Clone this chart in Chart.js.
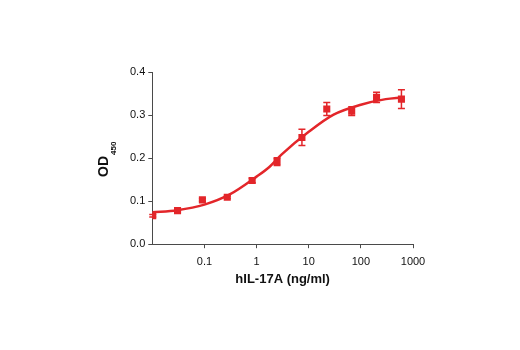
<!DOCTYPE html>
<html>
<head>
<meta charset="utf-8">
<script src="https://cdn.jsdelivr.net/npm/chart.js@4"></script>
<style>
  html, body { margin: 0; padding: 0; background: #fff; }
  #wrap { width: 520px; height: 350px; }
</style>
</head>
<body>
<div id="wrap"><canvas id="odChart" width="520" height="350"></canvas></div>
<script>
// measured points (dose in ng/ml, OD450 mean and error)
const doses = [0.0102, 0.0305, 0.0914, 0.274, 0.823, 2.47, 7.41, 22.2, 66.7, 200, 600];
const odMeans = [0.066, 0.078, 0.103, 0.109, 0.148, 0.192, 0.248, 0.314, 0.309, 0.341, 0.337];
const odErrors = [0.003, 0.003, 0.003, 0.003, 0.005, 0.009, 0.019, 0.015, 0.010, 0.012, 0.022];

// fitted curve
const fitDoses = [0.01, 0.03, 0.1, 0.3, 1, 1.78, 3, 10, 30, 100, 300, 600];
const fitOD = [0.074, 0.079, 0.092, 0.115, 0.157, 0.180, 0.208, 0.261, 0.301, 0.324, 0.337, 0.341];

const xTicks = [0.1, 1, 10, 100, 1000];
const xTickLabels = ['0.1', '1', '10', '100', '1000'];
const yTicks = [0, 0.1, 0.2, 0.3, 0.4];

const red = '#e3262a';
const axisColor = '#4a4a4a';
const font = "'Liberation Sans', Arial, sans-serif";

// error bars drawn with the chart's own scales
const errorBars = {
  id: 'errorBars',
  afterDatasetsDraw(chart) {
    const ctx = chart.ctx;
    const xs = chart.scales.x, ys = chart.scales.y;
    ctx.save();
    ctx.strokeStyle = red;
    ctx.lineWidth = 1.5;
    for (let i = 0; i < doses.length; i++) {
      const px = xs.getPixelForValue(doses[i]);
      const top = ys.getPixelForValue(odMeans[i] + odErrors[i]);
      const bot = ys.getPixelForValue(odMeans[i] - odErrors[i]);
      ctx.beginPath();
      ctx.moveTo(px, top); ctx.lineTo(px, bot);
      ctx.moveTo(px - 3.5, top); ctx.lineTo(px + 3.5, top);
      ctx.moveTo(px - 3.5, bot); ctx.lineTo(px + 3.5, bot);
      ctx.stroke();
    }
    ctx.restore();
  }
};

// y title with subscript
const yTitle = {
  id: 'yTitle',
  afterDraw(chart) {
    const ctx = chart.ctx;
    const a = chart.chartArea;
    ctx.save();
    ctx.translate(a.left - 44, 177);
    ctx.rotate(-Math.PI / 2);
    ctx.fillStyle = '#111';
    ctx.textAlign = 'left';
    ctx.textBaseline = 'alphabetic';
    ctx.font = "bold 14px " + font;
    ctx.fillText('OD', 0, 0);
    const w = ctx.measureText('OD').width;
    ctx.font = "bold 8px " + font;
    ctx.fillText('450', w + 1, 8);
    ctx.restore();
  }
};

new Chart(document.getElementById('odChart'), {
  type: 'scatter',
  data: {
    datasets: [
      {
        type: 'line',
        data: fitDoses.map((d, i) => ({ x: d, y: fitOD[i] })),
        borderColor: red,
        borderWidth: 2.5,
        pointRadius: 0,
        cubicInterpolationMode: 'monotone',
        fill: false
      },
      {
        data: doses.map((d, i) => ({ x: d, y: odMeans[i] })),
        backgroundColor: red,
        borderColor: red,
        pointStyle: 'rect',
        pointRadius: 5,
        borderWidth: 0
      }
    ]
  },
  options: {
    responsive: false,
    animation: false,
    layout: { padding: { left: 127, right: 107, top: 72, bottom: 63 } },
    plugins: { legend: { display: false }, tooltip: { enabled: false } },
    scales: {
      x: {
        type: 'logarithmic',
        min: 0.01,
        max: 1000,
        afterBuildTicks: s => { s.ticks = xTicks.map(v => ({ value: v })); },
        ticks: {
          autoSkip: false,
          maxRotation: 0,
          padding: 7,
          color: '#111',
          font: { family: font, size: 11 },
          callback: (v) => xTickLabels[xTicks.indexOf(v)]
        },
        grid: { drawOnChartArea: false, tickLength: 4, color: axisColor },
        border: { color: axisColor, width: 1 },
        title: {
          display: true,
          text: 'hIL-17A (ng/ml)',
          color: '#111',
          font: { family: font, size: 13, weight: 'bold' },
          padding: { top: -4, bottom: 0 }
        }
      },
      y: {
        min: 0,
        max: 0.4,
        afterBuildTicks: s => { s.ticks = yTicks.map(v => ({ value: v })); },
        ticks: {
          padding: 3,
          color: '#111',
          font: { family: font, size: 11 },
          callback: v => v.toFixed(1)
        },
        grid: { drawOnChartArea: false, tickLength: 4, color: axisColor },
        border: { color: axisColor, width: 1 }
      }
    }
  },
  plugins: [errorBars, yTitle]
});
</script>
</body>
</html>
